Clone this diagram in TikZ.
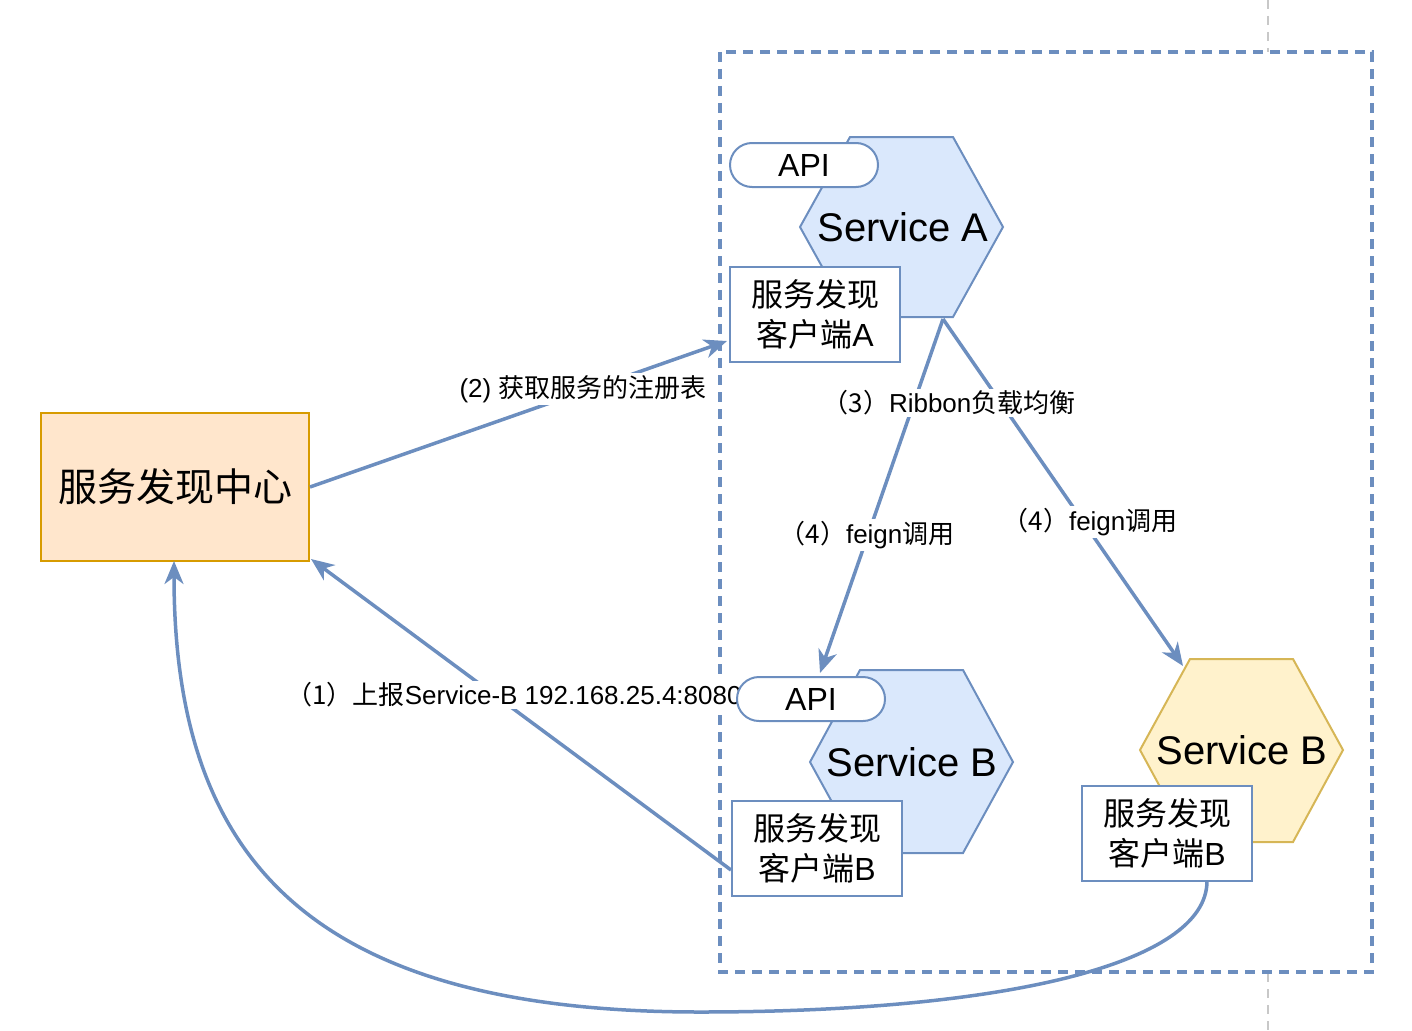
\documentclass[tikz,border=0pt]{standalone}
\usepackage{fontspec}
\setmainfont{Liberation Sans}
\newfontfamily\cjk{Noto Sans CJK SC}
\usetikzlibrary{arrows.meta}
\definecolor{bstroke}{HTML}{6C8EBF}
\definecolor{bfill}{HTML}{DAE8FC}
\definecolor{ostroke}{HTML}{D79B00}
\definecolor{ofill}{HTML}{FFE6CC}
\definecolor{ystroke}{HTML}{D6B656}
\definecolor{yfill}{HTML}{FFF2CC}
\definecolor{gline}{HTML}{C8C8C8}
\tikzset{
  hexblue/.style={draw=bstroke,fill=bfill,line width=2pt,line join=miter},
  hexyellow/.style={draw=ystroke,fill=yfill,line width=2pt,line join=miter},
  svc/.style={font=\fontsize{40}{46}\selectfont,inner sep=0pt},
  apibox/.style={draw=bstroke,fill=white,line width=2pt,rounded corners=22pt,minimum width=148pt,minimum height=44pt,inner sep=0pt,font=\fontsize{32}{36}\selectfont},
  clientbox/.style={draw=bstroke,fill=white,line width=2pt,minimum width=170pt,minimum height=95pt,inner sep=0pt,align=center,font=\fontsize{32}{40}\selectfont},
  centerbox/.style={draw=ostroke,fill=ofill,line width=2pt,minimum width=268pt,minimum height=148pt,inner sep=0pt,font=\fontsize{39}{44}\selectfont},
  conn/.style={draw=bstroke,line width=3.5pt,-{Stealth[length=23pt,width=19pt,inset=7pt]}},
  lbl/.style={fill=white,inner sep=2pt,font=\fontsize{26}{30}\selectfont},
  group/.style={draw=bstroke,line width=3.5pt,dash pattern=on 10pt off 7pt},
  guide/.style={draw=gline,line width=2pt,dash pattern=on 9pt off 7pt}
}
\begin{document}
\begin{tikzpicture}[x=1pt,y=-1pt]
\useasboundingbox (0,0) rectangle (1412,1030);
% gray guide line
\coordinate (g1) at (1268,0);
\coordinate (g2) at (1268,52);
\coordinate (g3) at (1268,973);
\coordinate (g4) at (1268,1030);
\draw[guide] (g1) -- (g2);
\draw[guide] (g3) -- (g4);
% group box
\coordinate (grpA) at (720,52);
\coordinate (grpB) at (1372,972);
\draw[group] (grpA) rectangle (grpB);

% discovery center
\node[centerbox] (center) at (175,487) {\cjk 服务发现中心};

% Service A
\draw[hexblue] (800,227) -- (850,137) -- (953,137) -- (1003,227) -- (953,317) -- (850,317) -- cycle;
\node[svc] (sA) at (903,227) {Service A};
\node[apibox] (apiA) at (804,165) {API};
\node[clientbox] (clA) at (815,314.5) {{\cjk 服务发现}\\{\cjk 客户端}A};

% Service B (blue)
\draw[hexblue] (810,762) -- (860,670) -- (963,670) -- (1013,762) -- (963,853) -- (860,853) -- cycle;
\node[svc] (sB) at (912,762) {Service B};

% Service B (yellow)
\draw[hexyellow] (1140,750) -- (1190,659) -- (1293,659) -- (1343,750) -- (1293,842) -- (1190,842) -- cycle;
\node[svc] (sB2) at (1242,750) {Service B};
\node[clientbox] (clB2) at (1167,833) {{\cjk 服务发现}\\{\cjk 客户端}B};

% connector coordinates
\coordinate (p2end) at (727,341);
\coordinate (p1start) at (731,870);
\coordinate (p1end) at (311,559);
\coordinate (rib) at (943,319);
\coordinate (toApiB) at (820,673);
\coordinate (toB2) at (1183,666);
\coordinate (curveStart) at (1207,881);
\coordinate (curveEnd) at (174,561);

% (2)
\draw[conn] (center.east) -- (p2end);
\node[lbl] (l2) at (583,389) {(2) {\cjk 获取服务的注册表}};

% (1)
\draw[conn] (p1start) -- (p1end);
\node[lbl] (l1) at (514,695) {{\cjk （1）上报}Service-B 192.168.25.4:8080};

% Ribbon
\draw[conn] (rib) -- (toApiB);
\draw[conn] (rib) -- (toB2);
\node[lbl] (l3) at (949,403) {{\cjk （3）}Ribbon{\cjk 负载均衡}};
\node[lbl] (l4a) at (867,535) {{\cjk （4）}feign{\cjk 调用}};
\node[lbl] (l4b) at (1090,522) {{\cjk （4）}feign{\cjk 调用}};

% API B and client B drawn above labels
\node[apibox] (apiB) at (811,699) {API};
\node[clientbox] (clB) at (817,848.5) {{\cjk 服务发现}\\{\cjk 客户端}B};

% curve
\coordinate (cm) at (700,1012);
\draw[conn] (curveStart) .. controls (1207,965) and (1000,1012) .. (cm) .. controls (300,1012) and (174,850) .. (curveEnd);
\end{tikzpicture}
\end{document}
